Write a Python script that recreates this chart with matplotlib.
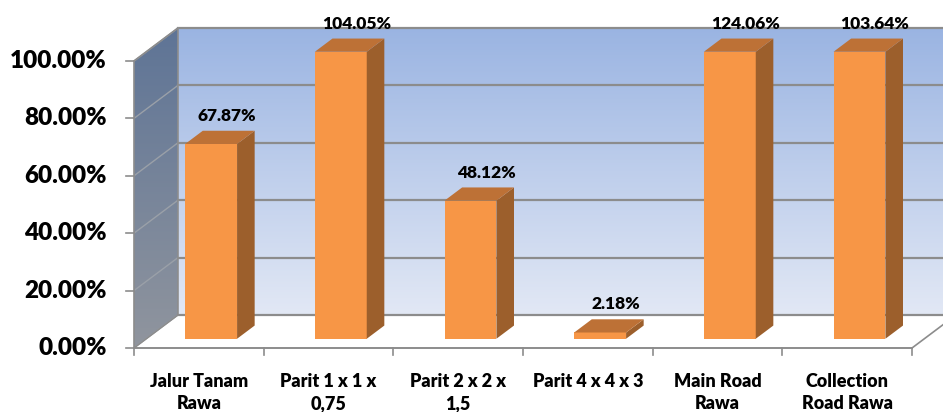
import matplotlib
matplotlib.use('Agg')
import matplotlib.pyplot as plt
from matplotlib.patches import Polygon
import numpy as np

categories = ['Jalur Tanam\nRawa', 'Parit 1 x 1 x\n0,75', 'Parit 2 x 2 x\n1,5',
              'Parit 4 x 4 x 3', 'Main Road\nRawa', 'Collection\nRoad Rawa']
values = [67.87, 104.05, 48.12, 2.18, 124.06, 103.64]
yticks = [0, 20, 40, 60, 80, 100]
ymax = 100

# 3d look: offset of the back wall, in category / percent units
dx, dy = 0.339, 11.5
bar_w = 0.40
bar_front = 0.28   # depth position of bar front (fraction of floor depth)
bar_depth = 0.40   # depth of bar (fraction of floor depth)

plt.rcParams['font.family'] = ['Lato', 'DejaVu Sans']

fig = plt.figure(figsize=(9.43, 4.12), dpi=100)
ax = fig.add_axes([0, 0, 1, 1])
ax.set_xlim(-1.5334, 5.739)
ax.set_ylim(-22.3, 121.25)
ax.axis('off')

x0 = -0.5
x1 = len(categories) - 0.5
grid_c = '#8c8c8c'
wt = 'heavy'

# back wall with vertical gradient
back = Polygon([(x0 + dx, dy), (x1 + dx, dy), (x1 + dx, ymax + dy), (x0 + dx, ymax + dy)],
               closed=True, facecolor='none', edgecolor='none')
ax.add_patch(back)
grad = np.linspace(0, 1, 256).reshape(-1, 1)
top_c = np.array([0x9a, 0xb4, 0xe2]) / 255
bot_c = np.array([0xe2, 0xe8, 0xf5]) / 255
img = top_c * (1 - grad[..., None]) + bot_c * grad[..., None]
im = ax.imshow(img, extent=(x0 + dx, x1 + dx, dy, ymax + dy), aspect='auto', zorder=1, origin='upper')
im.set_clip_path(back)

# left side wall with gradient
side = Polygon([(x0, 0), (x0 + dx, dy), (x0 + dx, ymax + dy), (x0, ymax)],
               closed=True, facecolor='none', edgecolor='none')
ax.add_patch(side)
top_s = np.array([0x5e, 0x74, 0x96]) / 255
bot_s = np.array([0x90, 0x95, 0x9e]) / 255
img2 = top_s * (1 - grad[..., None]) + bot_s * grad[..., None]
im2 = ax.imshow(img2, extent=(x0, x0 + dx, 0, ymax + dy), aspect='auto', zorder=1, origin='upper')
im2.set_clip_path(side)

# gridlines on back wall and side wall
for t in yticks:
    ax.plot([x0 + dx, x1 + dx], [t + dy, t + dy], color=grid_c, lw=1.6, zorder=2)
    ax.plot([x0, x0 + dx], [t, t + dy], color='#9aa0a8', lw=1.0, zorder=2)
    ax.plot([x0 - 0.06, x0], [t, t], color=grid_c, lw=1.2, zorder=2)
    ax.text(x0 - 0.21, t, f'{t:.2f}%', ha='right', va='center', fontsize=17.5,
            fontweight=wt, color='black')

# outlines of walls and floor
ax.plot([x0, x0, x0 + dx, x0 + dx], [0, ymax, ymax + dy, dy], color=grid_c, lw=1.2, zorder=2)
ax.plot([x0, x0 + dx], [0, dy], color=grid_c, lw=1.0, zorder=2)
ax.plot([x0, x1], [0, 0], color=grid_c, lw=1.4, zorder=2)
ax.plot([x1, x1 + dx], [0, dy], color=grid_c, lw=1.2, zorder=2)
for i in range(len(categories) + 1):
    ax.plot([x0 + i, x0 + i], [0, -2.5], color=grid_c, lw=1.2, zorder=2)

# bars
for i, (name, v) in enumerate(zip(categories, values)):
    h = min(v, ymax)
    fx = i + bar_front * dx - bar_w / 2
    fy = bar_front * dy
    bx, by = bar_depth * dx, bar_depth * dy
    front = Polygon([(fx, fy), (fx + bar_w, fy), (fx + bar_w, fy + h), (fx, fy + h)],
                    closed=True, facecolor='#f79646', edgecolor='none', zorder=5)
    right = Polygon([(fx + bar_w, fy), (fx + bar_w + bx, fy + by), (fx + bar_w + bx, fy + h + by),
                     (fx + bar_w, fy + h)], closed=True, facecolor='#9c5f2c', edgecolor='none', zorder=5)
    top = Polygon([(fx, fy + h), (fx + bar_w, fy + h), (fx + bar_w + bx, fy + h + by), (fx + bx, fy + h + by)],
                  closed=True, facecolor='#bd7136', edgecolor='none', zorder=5)
    for p in (front, right, top):
        ax.add_patch(p)
    ax.text(fx + bar_w / 2 + 0.12, fy + h + by + 5.2, f'{v:.2f}%', ha='center', va='center',
            fontsize=12.5, fontweight=wt, color='black', zorder=6)
    ax.text(i, -8.6, name, ha='center', va='top', fontsize=13, fontweight=wt,
            linespacing=1.4, color='black')

fig.savefig('out.png', dpi=100)
